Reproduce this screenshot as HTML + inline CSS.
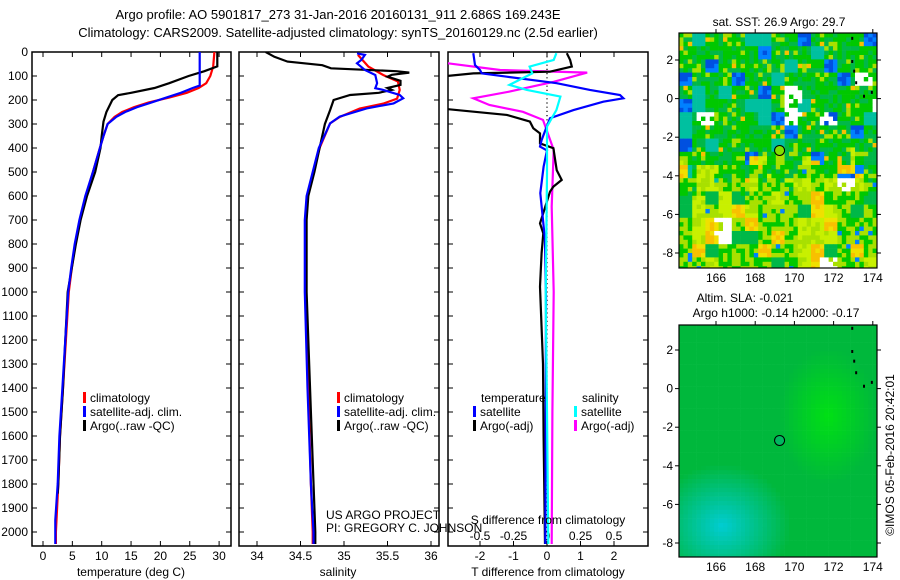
<!DOCTYPE html>
<html><head><meta charset="utf-8">
<style>
html,body{margin:0;padding:0;background:#fff;}
svg{display:block;font-family:"Liberation Sans",sans-serif;}
text{fill:#000;}
</style></head>
<body>
<svg id="fig" width="900" height="580" viewBox="0 0 900 580" xmlns="http://www.w3.org/2000/svg">
<defs>
<clipPath id="c1"><rect x="32" y="52" width="199" height="494"/></clipPath>
<clipPath id="c2"><rect x="239" y="52" width="200" height="494"/></clipPath>
<clipPath id="c3"><rect x="448" y="52" width="200" height="494"/></clipPath>
<clipPath id="cm1"><rect x="679" y="33" width="198" height="235"/></clipPath>
<clipPath id="cm2"><rect x="679" y="325" width="198" height="232"/></clipPath>
</defs>
<text x="338" y="19" font-size="13" text-anchor="middle">Argo profile: AO 5901817_273 31-Jan-2016 20160131_911 2.686S 169.243E</text>
<text x="338" y="37" font-size="13" text-anchor="middle">Climatology: CARS2009. Satellite-adjusted climatology: synTS_20160129.nc (2.5d earlier)</text>
<g id="g"></g>
</svg>
<script>
// ---------- data ----------
const depthTicks = [0,100,200,300,400,500,600,700,800,900,1000,1100,1200,1300,1400,1500,1600,1700,1800,1900,2000];
const tempTicks = [0,5,10,15,20,25,30];
const salTicks = [34,34.5,35,35.5,36];
const salTickLabels = ["34","34.5","35","35.5","36"];
const dTTicks = [-2,-1,0,1,2];
const dSTicks = [-0.5,-0.25,0,0.25,0.5];
const dSTickLabels = ["-0.5","-0.25","0","0.25","0.5"];

const climTDepth = [0,60,100,130,150,170,190,210,230,250,270,300,350,400,500,600,700,800,900,1000,1200,1400,1600,1800,2000,2050];
const climT      = [29.2,29.0,28.5,27.8,26.5,24.5,21.5,18,15.5,13.5,12.2,11,10.3,9.7,8.5,7.3,6.3,5.5,4.9,4.4,3.9,3.4,2.9,2.6,2.2,2.2];
const satTDepth  = [0,140,150,170,190,210,230,250,270,300,350,400,500,600,700,800,900,1000,1200,1400,1600,1800,1950,2000,2050];
const satT       = [26.7,26.7,25.5,23.5,21,18.5,16,14,12.5,11,10.3,9.7,8.5,7.2,6.2,5.4,4.8,4.3,3.8,3.3,2.8,2.5,2.1,2.1,2.1];
const argoTDepth = [0,60,80,100,130,150,170,180,200,250,290,350,400,500,600,700,800,900,1000,1200,1400,1600,1800,1840];
const argoT      = [29.7,29.7,27.5,24.8,21.5,19,15,12.8,11.8,10.8,10.3,10,9.8,8.9,7.5,6.4,5.6,4.9,4.2,3.8,3.4,2.9,2.6,2.5];

const climSDepth = [12,61,96,123,158,194,215,236,271,297,400,500,600,700,1000,1400,1800,2000,2050];
const climS      = [35.16,35.28,35.45,35.62,35.64,35.61,35.45,35.18,34.95,34.84,34.72,34.65,34.58,34.56,34.56,34.59,34.62,34.64,34.64];
const satSDepth  = [6,12,33,47,75,96,130,151,158,179,193,214,235,269,297,400,500,600,700,1000,1400,1800,2000,2050];
const satS       = [35.15,35.24,35.2,35.15,35.24,35.36,35.38,35.36,35.45,35.64,35.68,35.57,35.26,34.95,34.84,34.71,34.64,34.57,34.55,34.55,34.58,34.62,34.65,34.65];
const argoSDepth = [0,20,40,55,68,80,86,95,103,120,137,150,158,170,179,200,242,300,400,500,600,700,1000,1500,2000,2050];
const argoS      = [34.1,34.2,34.35,34.75,34.85,35.6,35.75,35.55,35.5,35.65,35.65,35.5,35.55,35.4,35.07,34.88,34.84,34.78,34.72,34.66,34.59,34.57,34.57,34.62,34.67,34.67];

const satDTDepth = [5,54,75,89,103,130,158,179,193,207,242,276,311,367,394,410,478,588,617,783,1025,1500,2050];
const satDT      = [-2.2,-2.15,-2.0,-1.95,-1.2,0.29,1.28,2.18,2.28,1.68,0.79,0.09,-0.01,-0.16,-0.21,0,-0.1,-0.2,-0.18,-0.06,-0.03,-0.04,-0.05];
const argoDTDepth = [5,33,61,82,89,103,235,262,290,318,339,381,401,492,533,561,582,714,756,838,978,1300,1600,2050];
const argoDT      = [0.59,0.69,0.74,0.09,-2.2,-3.2,-3.2,-1.2,-0.51,-0.41,-0.21,-0.21,0.19,0.29,0.44,0.19,0.09,-0.21,-0.11,-0.16,-0.21,-0.12,-0.1,-0.06];
const satDSDepth = [5,33,61,89,137,158,186,242,311,506,1025,1500,2050];
const satDS      = [0.07,0.05,-0.13,-0.11,-0.28,-0.15,0.1,0.07,0,0,-0.01,0.0,0.01];
const argoDSDepth = [40,47,75,86,124,165,193,221,249,283,408,644,1000,1500,2050];
const argoDS      = [-0.75,-0.74,-0.35,0.30,0.05,-0.28,-0.55,-0.43,-0.18,-0.03,0.05,0.035,0.05,0.04,0.035];

const lonTicks = [166,168,170,172,174];
const latTicks = [2,0,-2,-4,-6,-8];
const floatLon = 169.243, floatLat = -2.686;

// ---------- scales ----------
const yD = d => 52 + d*0.24;
const xT = t => 43 + t*5.87;
const xS = s => 257 + (s-34)*87;
const xdT = v => 547 + v*33.5;
const xdS = v => 547 + v*134;
const m1x = lon => 716 + (lon-166)*19.6;
const m1y = lat => 60 + (2-lat)*19.3;
const m2x = m1x;
const m2y = lat => 350 + (2-lat)*19.3;

const NS="http://www.w3.org/2000/svg";
const G=document.getElementById('g');
function el(tag,attrs,parent){const e=document.createElementNS(NS,tag);for(const k in attrs)e.setAttribute(k,attrs[k]);(parent||G).appendChild(e);return e;}
function txt(x,y,s,size,anchor,parent){const t=el('text',{x:x,y:y,'font-size':size,'text-anchor':anchor||'start'},parent);t.textContent=s;return t;}

function stepPath(depths, vals, xf){
  let d='';
  for(let i=0;i<depths.length;i++){
    const x=xf(vals[i]).toFixed(1), y=yD(depths[i]).toFixed(1);
    d += (i? ' L':'M')+x+' '+y;
  }
  return d;
}
function series(depths, vals, xf, color, clip, name){
  const p=el('path',{d:stepPath(depths,vals,xf),fill:'none',stroke:color,'stroke-width':2.2,'stroke-linejoin':'miter','clip-path':'url(#'+clip+')'});
  
  
}
function frame(x0,x1,name){
  const r=el('rect',{x:x0,y:52,width:x1-x0,height:494,fill:'none',stroke:'#000','stroke-width':1.5});
  
  
  depthTicks.forEach(d=>{
    el('line',{x1:x0,x2:x0+5,y1:yD(d),y2:yD(d),stroke:'#000'});
    el('line',{x1:x1-5,x2:x1,y1:yD(d),y2:yD(d),stroke:'#000'});
  });
}
function xTicks(vals,xf,labels,name,y){
  vals.forEach((v,i)=>{
    const x=xf(v);
    el('line',{x1:x,x2:x,y1:52,y2:57,stroke:'#000'});
    el('line',{x1:x,x2:x,y1:541,y2:546,stroke:'#000'});
    const t=txt(x,y||560,labels?labels[i]:String(v),12,'middle');
    
    
  });
}

// depth labels
depthTicks.forEach(d=>{
  const t=txt(28,yD(d)+4,String(d),12,'end');
  
  
});

// panel 1 temperature
frame(32,231,'temperature-panel');
xTicks(tempTicks,xT,null,'temperature');
series(climTDepth,climT,xT,'#ff0000','c1','temp-climatology-line');
series(argoTDepth,argoT,xT,'#000000','c1','temp-argo-line');
series(satTDepth,satT,xT,'#0000ff','c1','temp-satellite-line');
let t=txt(131,576,'temperature (deg C)',12,'middle');



// panel 2 salinity
frame(239,439,'salinity-panel');
xTicks(salTicks,xS,salTickLabels,'salinity');
series(climSDepth,climS,xS,'#ff0000','c2','sal-climatology-line');
series(argoSDepth,argoS,xS,'#000000','c2','sal-argo-line');
series(satSDepth,satS,xS,'#0000ff','c2','sal-satellite-line');
t=txt(338,576,'salinity',12,'middle');



// panel 3 differences
frame(448,648,'difference-panel');
xTicks(dTTicks,xdT,null,'t-diff');
dSTicks.forEach((v,i)=>{
  const tt=txt(xdS(v),540,dSTickLabels[i],12,'middle');
  
  
});
el('line',{x1:547,x2:547,y1:52,y2:546,stroke:'#000','stroke-width':1.2,'stroke-dasharray':'1.2 3'});
series(argoDSDepth,argoDS,xdS,'#ff00ff','c3','s-diff-argo-line');
series(argoDTDepth,argoDT,xdT,'#000000','c3','t-diff-argo-line');
series(satDTDepth,satDT,xdT,'#0000ff','c3','t-diff-satellite-line');
series(satDSDepth,satDS,xdS,'#00ffff','c3','s-diff-satellite-line');
t=txt(548,576,'T difference from climatology',12,'middle');


t=txt(548,524,'S difference from climatology',12,'middle');



// legends
function legendEntry(bx,y,color,label,name){
  el('rect',{x:bx,y:y-10,width:3,height:11,fill:color});
  const tt=txt(bx+7,y,label,12,'start');
  
  
}
legendEntry(83,402,'#ff0000','climatology','legend-entry-climatology');
legendEntry(83,416,'#0000ff','satellite-adj. clim.','legend-entry-satellite-adj');
legendEntry(83,430,'#000000','Argo(..raw -QC)','legend-entry-argo');
legendEntry(337,402,'#ff0000','climatology','legend-entry-climatology');
legendEntry(337,416,'#0000ff','satellite-adj. clim.','legend-entry-satellite-adj');
legendEntry(337,430,'#000000','Argo(..raw -QC)','legend-entry-argo');
t=txt(481,402,'temperature',12,'start');


t=txt(582,402,'salinity',12,'start');


legendEntry(473,416,'#0000ff','satellite','legend-entry-t-satellite');
legendEntry(473,430,'#000000','Argo(-adj)','legend-entry-t-argo');
legendEntry(574,416,'#00ffff','satellite','legend-entry-s-satellite');
legendEntry(574,430,'#ff00ff','Argo(-adj)','legend-entry-s-argo');
t=txt(326,519,'US ARGO PROJECT',12,'start');


t=txt(326,532,'PI: GREGORY C. JOHNSON',12,'start');



// ---------- maps ----------
function hash(i,j,s){let h=(i*374761393+j*668265263+s*982451653)|0;h=(h^(h>>>13))*1274126177|0;h=h^(h>>>16);return ((h>>>0)%10000)/10000;}
function sstColor(i,j,lat){
  const r=hash(i,j,1), r2=hash(Math.floor(i/3),Math.floor(j/3),2), r3=hash(Math.floor(i/4),Math.floor(j/3),3);
  if(r3>0.93 && r>0.2) return '#ffffff';
  const south = lat < -3.5 + (hash(Math.floor(i/2),Math.floor(j/2),5)-0.5)*3;
  if(south){
    if(r2>0.88) return r>0.5?'#f8c000':'#f0e000';
    if(r2>0.6) return r>0.4?'#c8f000':'#a8e000';
    if(r2>0.5) return '#00b848';
    if(r>0.95) return '#0080ff';
    return r>0.45?'#00c800':'#a8e000';
  } else {
    if(r2>0.92) return r>0.5?'#0080ff':'#0050e0';
    if(r2>0.8) return '#00c0a0';
    if(r>0.96) return '#f8c000';
    if(r>0.86) return '#a8e000';
    if(r>0.5) return '#00b848';
    return '#00c800';
  }
}
const mg1=el('g',{'clip-path':'url(#cm1)'});


const cs=4.4;
for(let j=0;j<54;j++){for(let i=0;i<46;i++){
  const x=679+i*cs, y=33+j*cs, lat=2-(y-60)/19.3;
  el('rect',{x:x,y:y,width:cs+0.3,height:cs+0.3,fill:sstColor(i,j,lat)},mg1);
}}
const mg2=el('g',{'clip-path':'url(#cm2)'});


for(let j=0;j<54;j++){for(let i=0;i<46;i++){
  const x=679+i*cs, y=325+j*cs;
  const lon=166+(x-716)/19.6, lat=2-(y-350)/19.3;
  const cyan=Math.max(0,1-Math.hypot((lon-166.2)/3.5,(lat+7)/3.2));
  const bright=Math.max(0,1-Math.hypot((lon-171.6)/2.5,(lat+1.3)/3.5));
  const g=Math.round(184+40*bright+20*cyan), b=Math.round(60+150*cyan-40*bright);
  el('rect',{x:x,y:y,width:cs+0.3,height:cs+0.3,fill:'rgb(0,'+g+','+Math.max(20,b)+')'},mg2);
}}
function mapFrame(y0,h,my,name){
  const r=el('rect',{x:679,y:y0,width:198,height:h,fill:'none',stroke:'#000','stroke-width':1.2});
  
  
  lonTicks.forEach(l=>{
    const x=m1x(l);
    el('line',{x1:x,x2:x,y1:y0-4,y2:y0,stroke:'#000'});
    const tt=txt(x,y0+h+14,String(l),12,'middle');
    
    
  });
  latTicks.forEach(l=>{
    const y=my(l);
    el('line',{x1:675,x2:679,y1:y,y2:y,stroke:'#000'});
    el('line',{x1:877,x2:881,y1:y,y2:y,stroke:'#000'});
    const tt=txt(673,y+4,String(l),12,'end');
    
    
  });
}
mapFrame(33,235,m1y,'sst-map-frame');
mapFrame(325,232,m2y,'sla-map-frame');
let c=el('circle',{cx:m1x(floatLon),cy:m1y(floatLat),r:5,fill:'#80e000',stroke:'#000','stroke-width':1});


c=el('circle',{cx:m2x(floatLon),cy:m2y(floatLat),r:5,fill:'#00b860',stroke:'#000','stroke-width':1});


// island dots
[[172.9,2.0],[173.0,1.5],[173.1,0.9],[173.5,0.2],[173.9,0.4],[172.9,3.2]].forEach(p=>{
  el('rect',{x:m1x(p[0]),y:m1y(p[1]),width:2,height:3,fill:'#000'});
  el('rect',{x:m2x(p[0]),y:m2y(p[1]),width:2,height:3,fill:'#000'});
});
t=txt(779,26,'sat. SST: 26.9 Argo: 29.7',12,'middle');


t=txt(745,302,'Altim. SLA: -0.021',12,'middle');


t=txt(776,317,'Argo h1000: -0.14 h2000: -0.17',12,'middle');


t=txt(0,0,'©IMOS 05-Feb-2016 20:42:01',12,'middle');
t.setAttribute('transform','translate(894,455) rotate(-90)');


</script>
</body></html>
